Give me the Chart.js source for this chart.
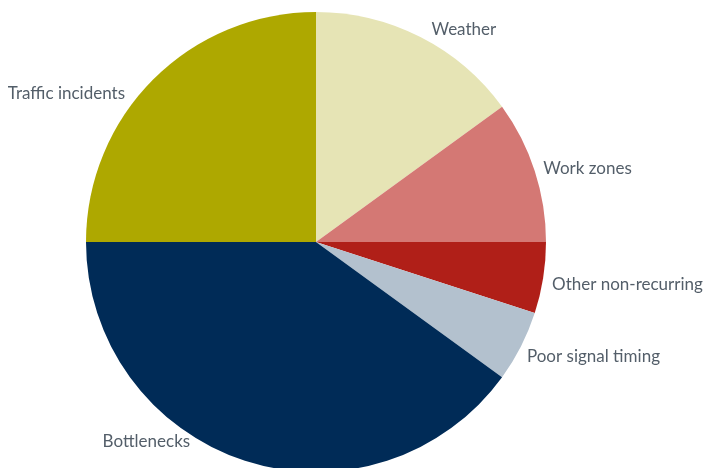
<!DOCTYPE html>
<html>
<head>
<meta charset="utf-8">
<script src="https://cdn.jsdelivr.net/npm/chart.js@4/dist/chart.umd.min.js"></script>
<style>
  html, body { margin: 0; padding: 0; background: #fff; overflow: hidden; }
  #wrap { width: 710px; height: 468px; overflow: hidden; position: relative; }
  canvas { position: absolute; left: 0; top: 0; }
</style>
</head>
<body>
<div id="wrap"><canvas id="pie" width="710" height="484"></canvas></div>
<script>
var labels = ['Weather', 'Work zones', 'Other non-recurring', 'Poor signal timing', 'Bottlenecks', 'Traffic incidents'];
var shares = [15, 10, 5, 5, 40, 25];
var colors = ['#e6e4b5', '#d47874', '#b01f18', '#b3c1ce', '#002b57', '#aea800'];

// small per-label shifts so the text sits clear of the rim
// (bottlenecks would fall below the canvas, so it is pulled up and left)
var labelNudge = [[7, 0], [0, 0], [0, 5], [-2, 6], [-52, -28], [-22, 21]];

var sliceLabels = {
  id: 'sliceLabels',
  afterDatasetsDraw: function (chart) {
    var ctx = chart.ctx,
        meta = chart.getDatasetMeta(0);
    ctx.save();
    ctx.font = '17px Lato, "Open Sans", sans-serif';
    ctx.fillStyle = '#535e69';
    ctx.textBaseline = 'middle';
    meta.data.forEach(function (arc, i) {
      var mid = (arc.startAngle + arc.endAngle) / 2,
          r = arc.outerRadius + 9,
          x = arc.x + Math.cos(mid) * r,
          y = arc.y + Math.sin(mid) * r;
      ctx.textAlign = Math.cos(mid) >= 0 ? 'left' : 'right';
      ctx.fillText(labels[i], x + labelNudge[i][0], y + labelNudge[i][1]);
    });
    ctx.restore();
  }
};

new Chart(document.getElementById('pie'), {
  type: 'pie',
  data: {
    labels: labels,
    datasets: [{
      data: shares,
      backgroundColor: colors,
      borderWidth: 0
    }]
  },
  options: {
    responsive: false,
    animation: false,
    devicePixelRatio: 1,
    radius: 230,
    layout: { padding: { left: 0, right: 78, top: 0, bottom: 0 } },
    plugins: {
      legend: { display: false },
      tooltip: { enabled: false }
    }
  },
  plugins: [sliceLabels]
});
</script>
</body>
</html>
